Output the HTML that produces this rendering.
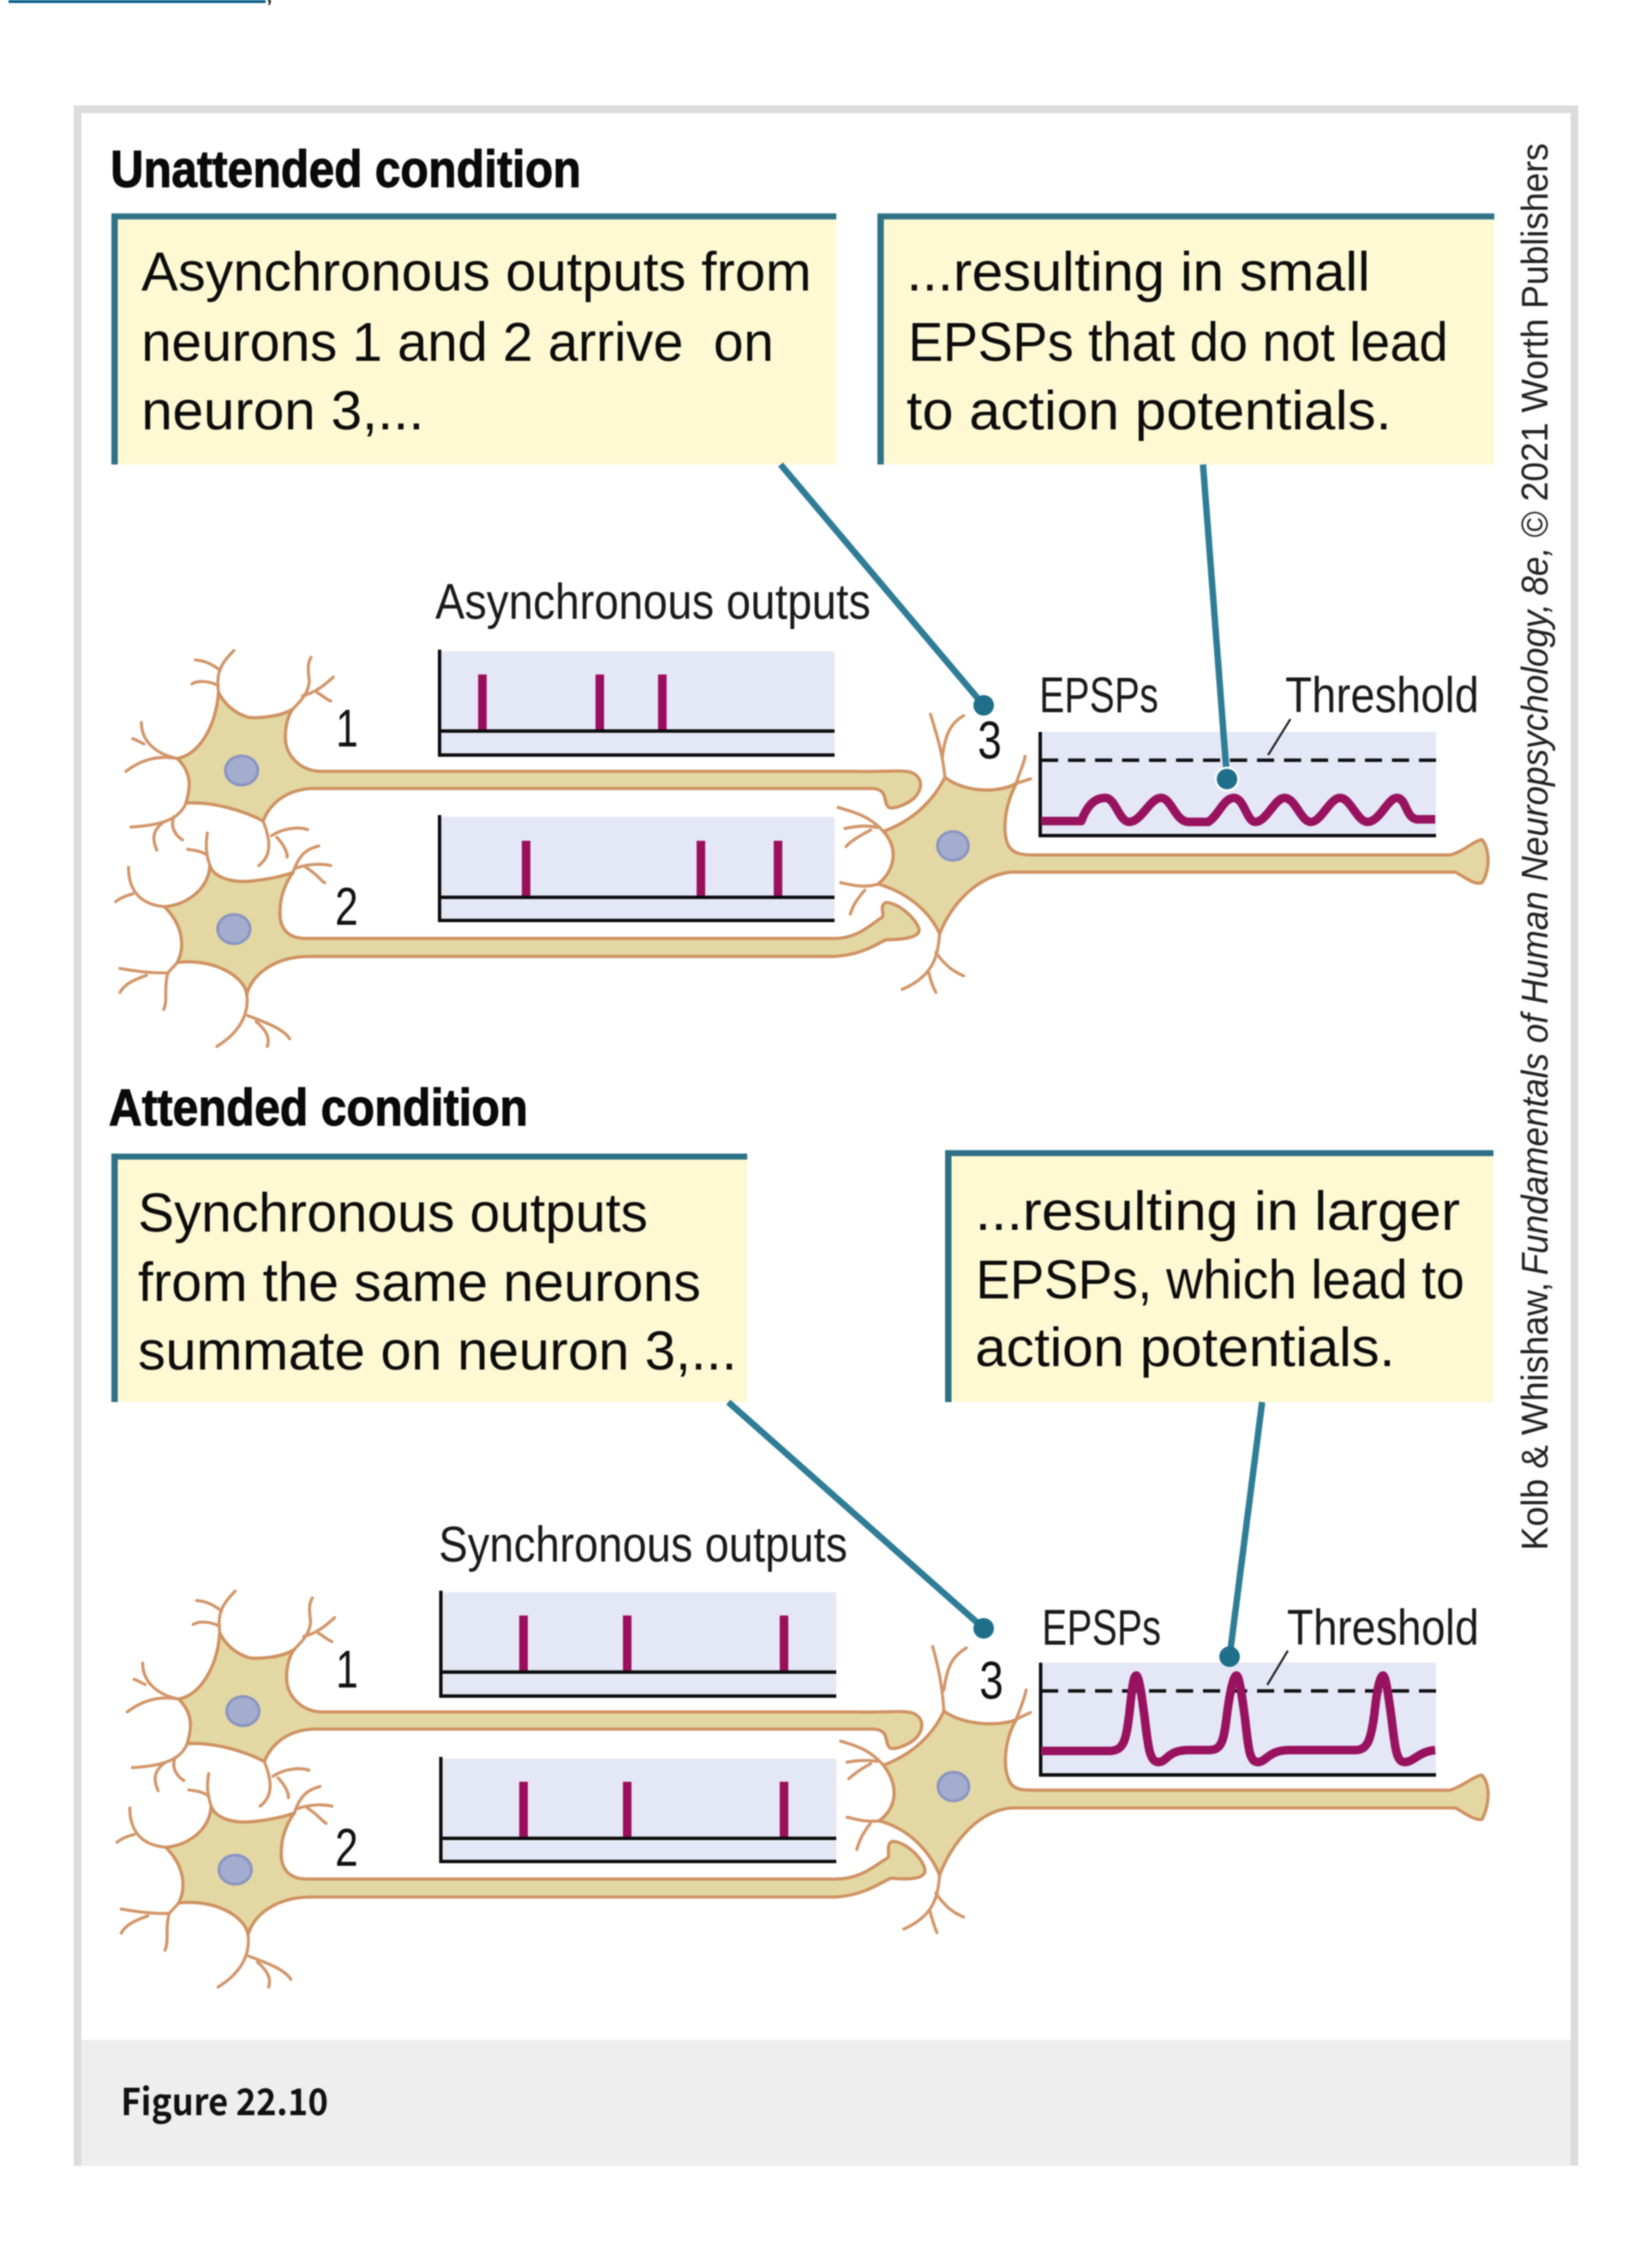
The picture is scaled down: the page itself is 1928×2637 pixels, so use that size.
<!DOCTYPE html>
<html lang="en"><head><meta charset="utf-8"><title>Figure 22.10</title>
<style>
html,body{margin:0;padding:0;background:#fff}
svg{display:block;filter:blur(0.7px)}
text{font-family:"Liberation Sans",sans-serif;fill:#111}
.b{font-size:64px;fill:#0c0c0c}
.l{font-size:58px;fill:#1a1a1a}
.h{font-size:60px;font-weight:bold;fill:#0a0a0a;stroke:#0a0a0a;stroke-width:1.2px}
.r{font-size:44px;fill:#222}
.i{font-style:italic}
.n path,.n ellipse{vector-effect:non-scaling-stroke}
.body{fill:#e3d8a3;stroke:#cf9262;stroke-width:3.8;stroke-linejoin:round}
.den{fill:none;stroke:#d2966a;stroke-width:3.6;stroke-linecap:round}
.nuc{fill:#a4adcd;stroke:#8a94c2;stroke-width:3.2}
.ax{stroke:#0d0d0d;stroke-width:4}
.sp{stroke:#9a0f5c;stroke-width:10}
.cv{fill:none;stroke:#98125f;stroke-width:10;stroke-linejoin:round}
.ld{stroke:#2f7c96;stroke-width:7.5}
.dot{fill:#1f6f8b}
.ds{stroke:#111;stroke-width:4;stroke-dasharray:20 11.5}
</style></head><body>
<svg width="1928" height="2637" viewBox="0 0 1928 2637" xmlns="http://www.w3.org/2000/svg">
<rect width="1928" height="2637" fill="#fff"/>
<rect x="10" y="0" width="300" height="3.500" fill="#0a5f8a"/>
<text x="311" y="2" style="font-size:24px;font-weight:bold">,</text>

<rect x="86" y="123" width="1756" height="2404" fill="#dcdcdc"/>
<rect x="95" y="132" width="1738" height="2248" fill="#fff"/>
<rect x="95" y="2380" width="1738" height="147" fill="#eee"/>
<text x="141" y="2468" textLength="242" lengthAdjust="spacingAndGlyphs" style="font-family:'Noto Sans CJK SC',sans-serif;font-size:43px;font-weight:700;fill:#111">Figure 22.10</text>

<text class="h" x="129" y="218" textLength="549" lengthAdjust="spacingAndGlyphs">Unattended condition</text>
<text class="h" x="127" y="1313" textLength="489" lengthAdjust="spacingAndGlyphs">Attended condition</text>

<!-- callouts -->
<g fill="#fef9d3">
<rect x="130" y="249" width="846" height="293"/>
<rect x="1024" y="249" width="720" height="293"/>
<rect x="130" y="1346" width="742" height="290"/>
<rect x="1103" y="1342" width="640" height="294"/>
</g>
<g fill="#2f7187">
<rect x="130" y="249" width="846" height="7"/><rect x="130" y="249" width="7.500" height="293"/>
<rect x="1024" y="249" width="720" height="7"/><rect x="1024" y="249" width="7.500" height="293"/>
<rect x="130" y="1346" width="742" height="7"/><rect x="130" y="1346" width="7.500" height="290"/>
<rect x="1103" y="1342" width="640" height="7"/><rect x="1103" y="1342" width="7.500" height="294"/>
</g>
<text class="b" x="165" y="339" textLength="782" lengthAdjust="spacingAndGlyphs">Asynchronous outputs from</text>
<text class="b" x="165" y="421" textLength="738" lengthAdjust="spacingAndGlyphs" xml:space="preserve">neurons 1 and 2 arrive  on</text>
<text class="b" x="165" y="501" textLength="330" lengthAdjust="spacingAndGlyphs">neuron 3,...</text>
<text class="b" x="1058" y="339" textLength="541" lengthAdjust="spacingAndGlyphs">...resulting in small</text>
<text class="b" x="1060" y="421" textLength="630" lengthAdjust="spacingAndGlyphs">EPSPs that do not lead</text>
<text class="b" x="1058" y="501" textLength="566" lengthAdjust="spacingAndGlyphs">to action potentials.</text>
<text class="b" x="161" y="1437" textLength="595" lengthAdjust="spacingAndGlyphs">Synchronous outputs</text>
<text class="b" x="161" y="1518" textLength="657" lengthAdjust="spacingAndGlyphs">from the same neurons</text>
<text class="b" x="161" y="1598" textLength="699" lengthAdjust="spacingAndGlyphs">summate on neuron 3,...</text>
<text class="b" x="1138" y="1435" textLength="566" lengthAdjust="spacingAndGlyphs">...resulting in larger</text>
<text class="b" x="1139" y="1515" textLength="570" lengthAdjust="spacingAndGlyphs">EPSPs, which lead to</text>
<text class="b" x="1138" y="1594" textLength="490" lengthAdjust="spacingAndGlyphs">action potentials.</text>

<!-- rotated credit -->
<g transform="translate(1806,0) rotate(-90)">
<text class="r" x="-1809" y="0" textLength="313" lengthAdjust="spacingAndGlyphs">Kolb &amp; Whishaw,</text>
<text class="r i" x="-1488" y="0" textLength="784" lengthAdjust="spacingAndGlyphs">Fundamentals of Human Neuropsychology,</text>
<text class="r i" x="-695" y="0" textLength="57" lengthAdjust="spacingAndGlyphs">8e,</text>
<text class="r" x="-627" y="0" textLength="460" lengthAdjust="spacingAndGlyphs">© 2021 Worth Publishers</text>
</g>

<!-- neuron 1 and dendrites of 1/2, shared by both conditions -->
<g id="nA" class="n">
<path class="den" d="M255 808C252 785 257 775 273 759M257 782C247 775 240 771 228 770M255 800C243 794 230 794 224 798M342 827C352 817 360 808 361 795C360 785 358 775 363 767M353 812C368 808 378 800 389 790M370 808C377 812 381 816 386 818M207 885C182 880 165 865 165 843M168 868C163 866 159 863 155 862M207 885C180 880 160 890 147 900M217 937C210 955 190 963 153 965M190 960C177 970 178 980 183 992M203 953C198 965 205 975 213 980M307 958C318 985 315 1000 302 1010M317 975C333 965 350 965 359 968M323 977C333 987 336 998 335 1000"/>
<path class="body" d="M255 808C252 847 233 880 207 885C225 903 222 920 217 937C250 935 287 947 307 958C317 933 340 920 367 920L1018 920C1037 921 1030 935 1037 942C1044 945 1060 937 1066 932C1076 923 1079 907 1063 901C1050 898 1025 901 1000 900L372 900C348 898 333 880 333 860C333 845 337 833 342 827C327 837 300 838 290 837C275 833 262 822 255 808Z"/>
<ellipse class="nuc" cx="282" cy="899" rx="19" ry="17"/>
<path class="den" d="M245 1010C240 995 240 985 242 972M242 998C233 992 225 992 219 991M342 1018C350 993 362 990 372 987M345 1013C362 1007 378 1008 386 1010M357 1012C370 1020 375 1028 379 1030M192 1058C160 1055 150 1035 150 1012M155 1043C147 1045 140 1048 135 1052M207 1123L196 1135C177 1136 157 1133 140 1130M196 1135C191 1152 196 1167 191 1178M171 1138C154 1144 145 1149 140 1158M288 1160C291 1184 279 1205 253 1221M289 1185C310 1193 330 1200 338 1212M299 1192C312 1203 315 1212 312 1221"/>
</g>
<use href="#nA" transform="translate(1.5,1097.5)"/>

<!-- neuron 2 top -->
<path class="body" d="M245 1010C243 1037 220 1055 192 1058C214 1080 216 1105 207 1123C250 1118 285 1139 288 1160C295 1135 323 1116 361 1116L974 1116C1006 1114 1022 1102 1034 1096.500C1057 1096.500 1074 1093 1072.600 1084C1069 1072 1050 1054 1034 1053C1026 1056 1032 1067 1030 1070C1018 1077 1002 1095 974 1095L357 1095C333 1095 325 1080 327 1060C327 1047 333 1030 342 1018C322 1025 290 1030 275 1028C260 1026 248 1020 245 1010Z"/>
<ellipse class="nuc" cx="273" cy="1084" rx="19" ry="17"/>
<!-- neuron 2 bottom -->
<g transform="translate(1.5,1097.5)">
<path class="body" d="M245 1010C243 1037 220 1055 192 1058C214 1080 216 1105 207 1123C250 1118 285 1139 288 1160C295 1135 323 1116 361 1116L974 1116C1006 1114 1025 1100 1038 1094C1060 1096 1079 1095 1078 1084C1075 1070 1056 1052 1040 1051C1032 1054 1037 1066 1035 1070C1022 1077 1005 1095 974 1095L357 1095C333 1095 325 1080 327 1060C327 1047 333 1030 342 1018C322 1025 290 1030 275 1028C260 1026 248 1020 245 1010Z"/>
<ellipse class="nuc" cx="273" cy="1084" rx="19" ry="17"/>
</g>

<!-- neuron 3 top -->
<g class="n" transform="translate(950,700) scale(0.6237,0.3509)">
<path class="den" d="M245 590C240 500 228 440 218 380M240 525C245 450 255 410 280 385M378 612C385 570 392 550 395 520M375 612L405 595M130 770C105 720 75 705 45 690M118 757C100 748 80 752 58 760M106 765C85 785 70 800 60 820M120 945C95 958 75 950 50 940M95 965C78 1000 72 1020 68 1045M235 1110C232 1180 225 1250 165 1295M228 1172C245 1215 260 1235 280 1250M215 1240C218 1265 222 1285 228 1305"/>
<path class="body" d="M245 590C275 630 330 650 378 612C358 680 352 760 362 810C370 845 390 848 410 848L1190 848C1215 838 1235 800 1250 797C1265 830 1265 900 1250 940C1235 950 1215 918 1200 905L370 905C310 915 260 1000 235 1110C215 1030 170 970 120 945C150 900 160 830 130 770C190 730 225 660 245 590Z"/>
<ellipse class="nuc" cx="260" cy="818" rx="29" ry="48"/>
</g>
<!-- neuron 3 bottom -->
<g class="n" transform="translate(950,1800) scale(0.6237,0.3509)">
<path class="den" d="M243 560C240 470 232 410 222 345M243 490C250 400 262 375 285 350M378 590C385 555 392 530 397 490M375 590L405 565M130 740C105 690 80 675 50 660M118 727C95 722 80 724 62 730M106 735C85 755 75 770 65 785M122 925C95 930 80 920 62 913M105 935C90 970 85 990 80 1020M235 1105C232 1175 225 1240 168 1285M228 1165C245 1210 260 1230 280 1245M217 1225C222 1260 226 1280 230 1297"/>
<path class="body" d="M243 560C275 600 330 615 378 590C358 650 352 740 365 790C372 822 390 823 410 823L1190 823C1215 810 1235 775 1250 773C1268 810 1262 880 1250 920C1235 925 1215 895 1200 882L370 882C310 890 260 990 235 1105C215 1020 175 950 122 925C155 880 160 810 130 740C190 700 225 630 243 560Z"/>
<ellipse class="nuc" cx="261" cy="811" rx="29" ry="48"/>
</g>

<!-- raster panels -->
<g fill="#e4e7f5">
<rect x="512" y="760" width="462" height="121"/>
<rect x="512" y="953" width="462" height="121"/>
<rect x="513" y="1858" width="463" height="121"/>
<rect x="513" y="2052" width="463" height="120"/>
<rect x="1213" y="854" width="463" height="123"/>
<rect x="1214" y="1940" width="462" height="134"/>
</g>
<path class="sp" d="M563 787V853M700 787V853M773 787V853M614 981V1047M818 981V1047M908 981V1047M611 1885V1951M732 1885V1951M915 1885V1951M611 2079V2145M732 2079V2145M915 2079V2145"/>
<path class="ax" fill="none" d="M513 758V881H974M511 853H974M513 951V1074H974M511 1047H974M514.500 1856V1979H976M513 1951H976M514.500 2050V2172H976M513 2145H976M1214 854V975H1676M1214.500 1940V2071H1676"/>
<path class="ds" d="M1215 887H1676M1215 1973H1676"/>
<path class="cv" d="M1215 958H1262C1268 942 1276 931 1290 931C1302 931 1306 959 1318 959C1332 959 1342 931 1355 931C1367 931 1372 959 1387 959H1410C1422 952 1428 931 1440 931C1452 931 1455 959 1465 959C1478 959 1488 931 1499 931C1512 931 1518 959 1530 959C1542 959 1552 931 1564 931C1576 931 1584 959 1596 959C1610 959 1620 931 1630 931C1642 931 1640 956 1655 956H1675"/>
<path class="cv" d="M1215 2043H1295C1312 2043 1314 2030 1318 2000C1321 1970 1323 1955 1326 1955C1329 1955 1332 1975 1336 2005C1340 2040 1342 2056 1352 2056C1362 2056 1362 2043 1385 2042H1410C1425 2042 1428 2035 1432 2000C1436 1970 1440 1955 1443 1955C1446 1955 1449 1975 1453 2005C1457 2040 1458 2056 1468 2056C1478 2056 1480 2042 1505 2042H1582C1596 2042 1600 2030 1604 2000C1607 1970 1611 1955 1614 1955C1617 1955 1620 1975 1624 2005C1628 2040 1630 2056 1639 2056C1650 2056 1655 2044 1675 2042"/>

<!-- labels -->
<text class="l" x="508" y="722" textLength="508" lengthAdjust="spacingAndGlyphs">Asynchronous outputs</text>
<text class="l" x="512" y="1822" textLength="477" lengthAdjust="spacingAndGlyphs">Synchronous outputs</text>
<text class="l" x="1213" y="831" textLength="139" lengthAdjust="spacingAndGlyphs">EPSPs</text>
<text class="l" x="1500" y="831" textLength="226" lengthAdjust="spacingAndGlyphs">Threshold</text>
<text class="l" x="1216" y="1919" textLength="139" lengthAdjust="spacingAndGlyphs">EPSPs</text>
<text class="l" x="1502" y="1919" textLength="224" lengthAdjust="spacingAndGlyphs">Threshold</text>
<text x="392" y="871" style="font-size:62px" textLength="26" lengthAdjust="spacingAndGlyphs">1</text>
<text x="391" y="1079" style="font-size:62px" textLength="27" lengthAdjust="spacingAndGlyphs">2</text>
<text x="392" y="1969" style="font-size:62px" textLength="26" lengthAdjust="spacingAndGlyphs">1</text>
<text x="391" y="2177" style="font-size:62px" textLength="27" lengthAdjust="spacingAndGlyphs">2</text>
<text x="1141" y="885" style="font-size:62px" textLength="28" lengthAdjust="spacingAndGlyphs">3</text>
<text x="1143" y="1982" style="font-size:62px" textLength="28" lengthAdjust="spacingAndGlyphs">3</text>
<path stroke="#222" stroke-width="2.500" d="M1506 839L1480 881M1503 1926L1479 1966"/>

<!-- leaders -->
<path class="ld" d="M911 542L1148 823M1404 542L1432 909M850 1636L1148 1900M1473 1636L1435 1933"/>
<circle cx="1432" cy="909" r="14.500" fill="#fff"/>
<circle class="dot" cx="1148" cy="823" r="12"/>
<circle class="dot" cx="1432" cy="909" r="12"/>
<circle class="dot" cx="1148" cy="1900" r="12"/>
<circle class="dot" cx="1435" cy="1933" r="12"/>
</svg>
</body></html>
